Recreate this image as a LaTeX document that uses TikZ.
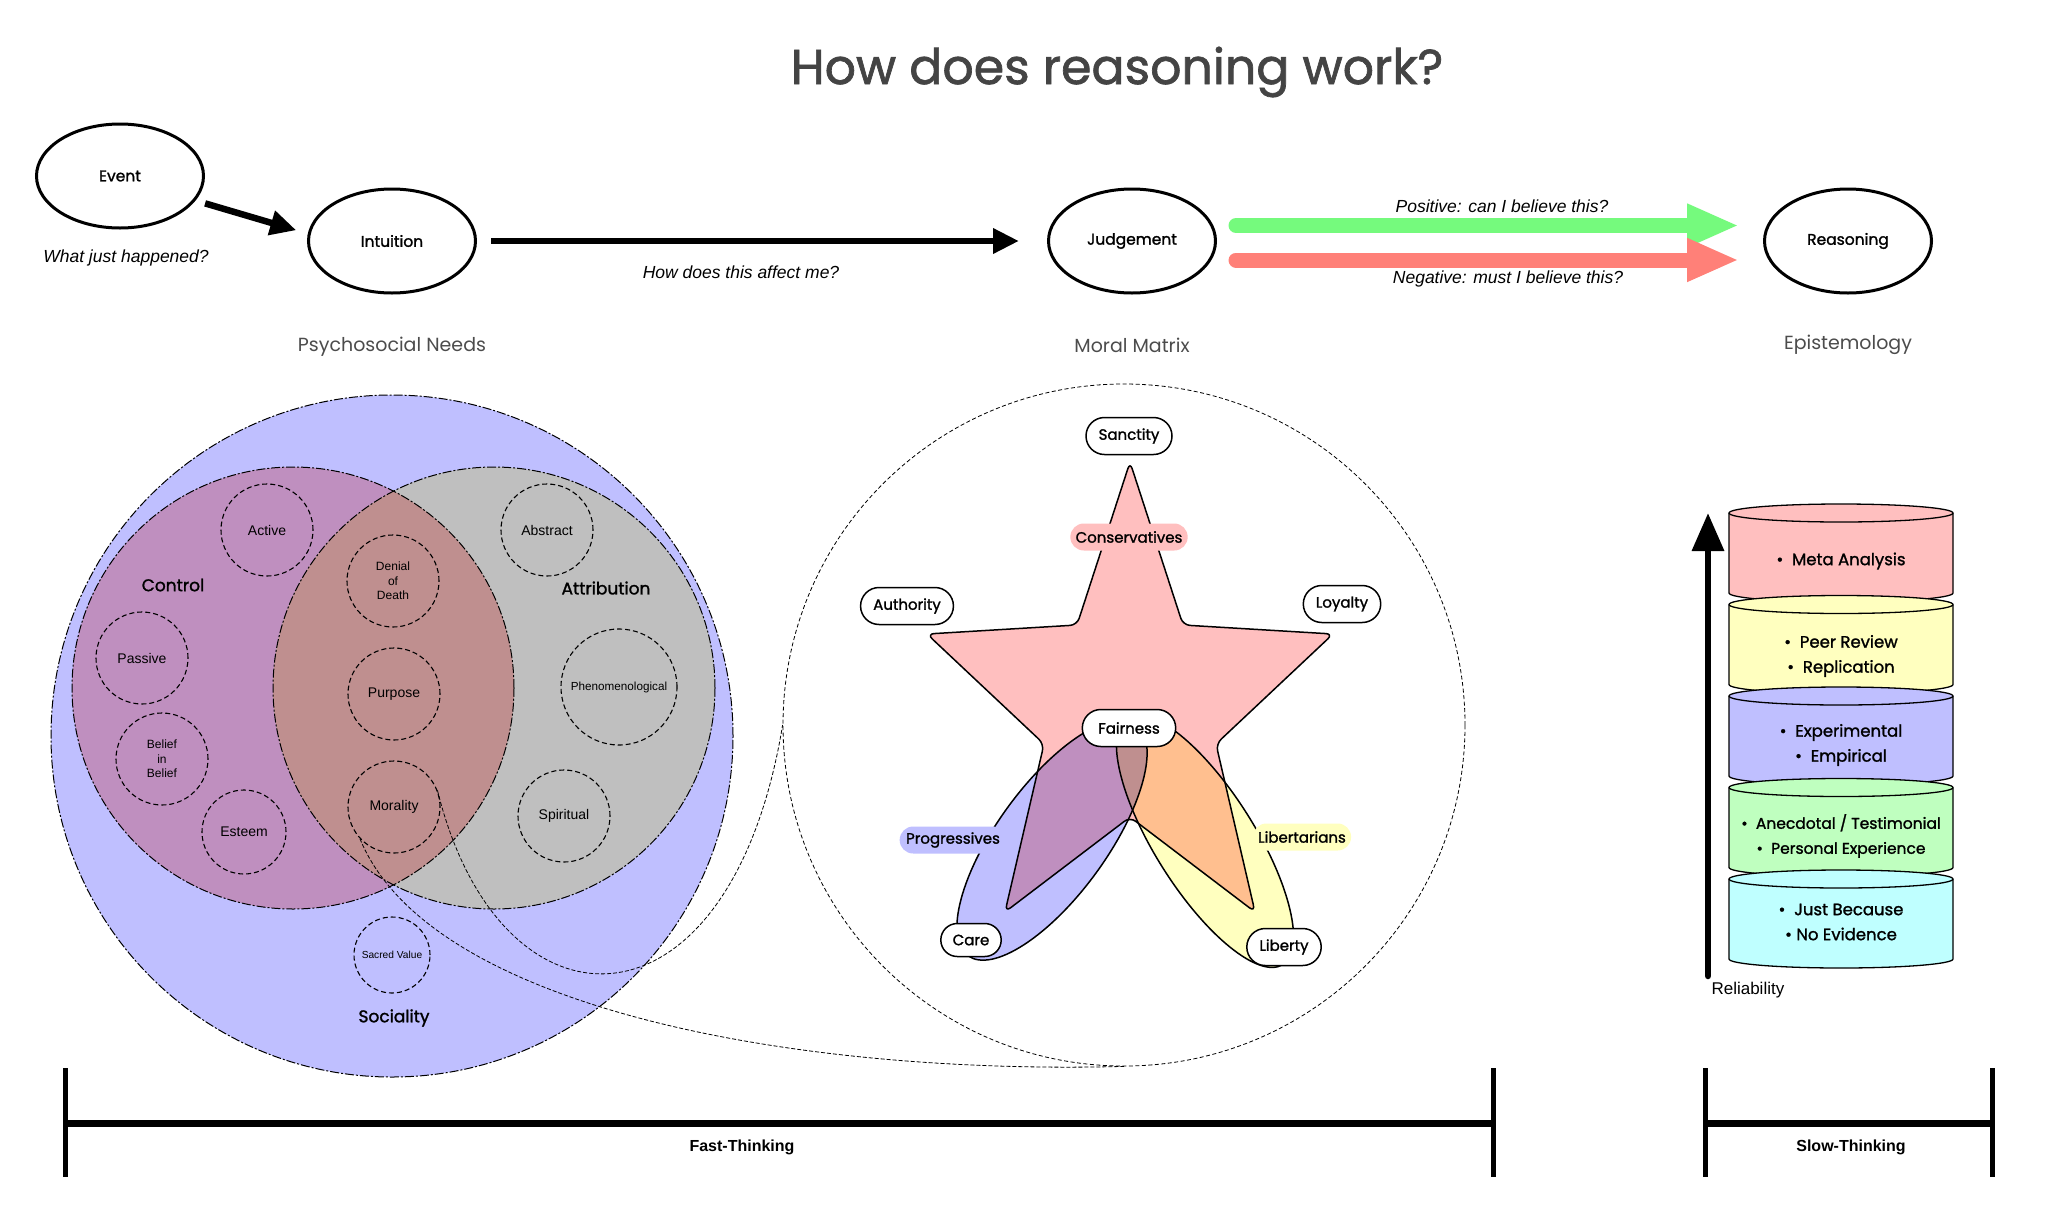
\documentclass[tikz,border=0pt]{standalone}
\usepackage{fontspec}
\setmainfont{Liberation Sans}
\newfontfamily\futura{Poppins}
\newfontfamily\futuramed{Poppins}[FakeBold=1.4]
\usetikzlibrary{arrows.meta,shapes.geometric,shapes.misc}

\definecolor{socblue}{RGB}{191,191,255}
\definecolor{ctrlpurple}{RGB}{191,143,191}
\definecolor{attrgray}{RGB}{191,191,191}
\definecolor{overlaprose}{RGB}{191,143,143}
\definecolor{starpink}{RGB}{255,191,191}
\definecolor{libyellow}{RGB}{255,255,191}
\definecolor{liborange}{RGB}{255,191,143}
\definecolor{evigreen}{RGB}{191,255,191}
\definecolor{evicyan}{RGB}{191,255,255}
\definecolor{posgreen}{RGB}{117,250,125}
\definecolor{negred}{RGB}{255,128,120}
\definecolor{titlegray}{RGB}{68,68,68}

\tikzset{
  stage/.style={ellipse, draw, line width=3pt, minimum width=167pt, minimum height=104pt, font=\futuramed\fontsize{15.5}{18}\selectfont},
  question/.style={font=\itshape\fontsize{17.5}{21}\selectfont},
  section/.style={font=\futura\fontsize{19}{23}\selectfont, text=black!70},
  flow/.style={line width=6.5pt, -{Triangle[length=26pt,width=24pt]}},
  verdict/.style={line width=15pt, line cap=round, -{Triangle[length=52pt,width=40pt]}},
  vennline/.style={line width=1pt, dash pattern=on 9pt off 2pt on 2pt off 2pt},
  need/.style={circle, draw, line width=1.1pt, dash pattern=on 5pt off 3pt, minimum size=92pt, inner sep=0pt, align=center, font=\fontsize{14}{16}\selectfont},
  needset/.style={font=\futuramed\fontsize{17}{20}\selectfont},
  foundation/.style={rounded rectangle, draw, fill=white, line width=1.5pt, minimum height=37pt, inner xsep=11pt, font=\futuramed\fontsize{15}{18}\selectfont},
  camp/.style={rounded rectangle, minimum height=27pt, inner xsep=4pt, font=\futuramed\fontsize{15}{18}\selectfont},
  petal/.style={line width=1.5pt},
  careleaf/.style={rotate around={54:(1052,840)}},
  libleaf/.style={rotate around={-57.8:(1205,841)}},
  zoomline/.style={line width=0.8pt, dash pattern=on 4pt off 2pt},
  evidence/.style={align=center, font=\futuramed\fontsize{16.5}{25}\selectfont},
  bracket/.style={line width=7pt},
}

\begin{document}
\begin{tikzpicture}[x=1pt, y=-1pt]
\path[use as bounding box, fill=white] (0,0) rectangle (2048,1213);

\node[font=\futuramed\fontsize{49}{58}\selectfont, text=titlegray] (title) at (1117,72) {How does reasoning work?};

% top row
\node[stage] (event) at (120,176) {Event};
\node[stage] (intuition) at (392,241) {Intuition};
\node[stage] (judgement) at (1132,241) {Judgement};
\node[stage] (reasoning) at (1848,241) {Reasoning};

\draw[flow, shorten <=10pt, shorten >=12pt] (event.-18) -- (intuition.175);
\draw[flow, shorten <=14pt, shorten >=28pt] (intuition) -- (judgement);
\draw[verdict, posgreen, shorten <=19pt, shorten >=24pt] ([yshift=15.5pt]judgement.east) -- ([yshift=15.5pt]reasoning.west);
\draw[verdict, negred, shorten <=19pt, shorten >=24pt] ([yshift=-19pt]judgement.east) -- ([yshift=-19pt]reasoning.west);

\node[question] (happened) at (126,258) {What just happened?};
\node[question] (affect) at (741,272) {How does this affect me?};
\node[question] (positive) at (1502,206) {Positive: can I believe this?};
\node[question] (negative) at (1508,279) {Negative: must I believe this?};

\node[section] (needs) at (392,347) {Psychosocial Needs};
\node[section] (matrix) at (1132,345) {Moral Matrix};
\node[section] (episteme) at (1848,345) {Epistemology};

% psychosocial needs venn
\fill[socblue] (392,736) circle[radius=341pt];
\fill[ctrlpurple] (293,688) circle[radius=221pt];
\fill[attrgray] (494,688) circle[radius=221pt];
\begin{scope}
  \clip (293,688) circle[radius=221pt];
  \fill[overlaprose] (494,688) circle[radius=221pt];
\end{scope}
\draw[vennline] (392,736) circle[radius=341pt];
\draw[vennline] (293,688) circle[radius=221pt];
\draw[vennline] (494,688) circle[radius=221pt];

\node[need] (active) at (267,530) {Active};
\node[need] (passive) at (142,658) {Passive};
\node[need, font=\fontsize{12}{14.5}\selectfont] (belief) at (162,759) {Belief\\in\\Belief};
\node[need, minimum size=84pt] (esteem) at (244,832) {Esteem};
\node[need, font=\fontsize{12}{14.5}\selectfont] (denial) at (393,581) {Denial\\of\\Death};
\node[need] (purpose) at (394,694) {Purpose};
\node[need] (morality) at (394,807) {Morality};
\node[need] (abstract) at (547,530) {Abstract};
\node[need, minimum size=116pt, font=\fontsize{11.7}{14}\selectfont] (phenomenal) at (619,687) {Phenomenological};
\node[need] (spiritual) at (564,816) {Spiritual};
\node[need, minimum size=76pt, font=\fontsize{10.2}{12}\selectfont] (sacred) at (392,955) {Sacred Value};

\node[needset] (control) at (173,585) {Control};
\node[needset] (attribution) at (606,588) {Attribution};
\node[needset] (sociality) at (394,1018) {Sociality};

% moral matrix
\node[circle, draw, line width=0.8pt, dash pattern=on 4pt off 2.5pt, minimum size=682pt, inner sep=0pt] (mmcircle) at (1124,725) {};

\def\starpath{(1130,462) -- (1183,625) -- (1333,634) -- (1216,744) -- (1255,912) -- (1130,817) -- (1005,912) -- (1044,744) -- (927,634) -- (1077,625) -- cycle}
\def\carepetal{(1052,840) ellipse[x radius=143pt, y radius=55pt]}
\def\libpetal{(1205,841) ellipse[x radius=146pt, y radius=50pt]}

\fill[starpink, rounded corners=7pt] \starpath;
\fill[socblue, careleaf] \carepetal;
\fill[libyellow, libleaf] \libpetal;
\begin{scope}
  \clip[rounded corners=7pt] \starpath;
  \fill[ctrlpurple, careleaf] \carepetal;
  \fill[liborange, libleaf] \libpetal;
  \clip[careleaf] \carepetal;
  \fill[overlaprose, libleaf] \libpetal;
\end{scope}
\draw[petal, careleaf] \carepetal;
\draw[petal, libleaf] \libpetal;
\draw[petal, rounded corners=7pt] \starpath;

\node[foundation] (sanctity) at (1129,436) {Sanctity};
\node[foundation] (authority) at (907,606) {Authority};
\node[foundation] (loyalty) at (1342,604) {Loyalty};
\node[foundation, inner xsep=15pt] (fairness) at (1129,728) {Fairness};
\node[foundation, minimum height=33pt] (care) at (971,940) {Care};
\node[foundation] (liberty) at (1284,947) {Liberty};
\node[camp, fill=starpink] (conservatives) at (1129,537) {Conservatives};
\node[camp, fill=socblue] (progressives) at (953,840) {Progressives};
\node[camp, fill=libyellow] (libertarians) at (1302,837) {Libertarians};

% zoom from morality
\draw[zoomline] (morality.21) .. controls (500,1045) and (730,1045) .. (mmcircle.west);
\draw[zoomline] (morality.223) .. controls (430,1010) and (800,1075) .. (mmcircle.south);

% epistemology stack
\foreach \lvl/\col in {0/starpink,1/libyellow,2/socblue,3/evigreen,4/evicyan} {
  \pgfmathsetmacro\cyltop{513+91.5*\lvl}
  \pgfmathsetmacro\cylbot{\cyltop+80}
  \filldraw[fill=\col, line width=1.3pt] (1729,\cyltop) -- (1729,\cylbot) arc[start angle=180, end angle=360, x radius=112pt, y radius=9pt] -- (1953,\cyltop) arc[start angle=0, end angle=180, x radius=112pt, y radius=9pt] -- cycle;
  \draw[line width=1.3pt] (1729,\cyltop) arc[start angle=180, end angle=360, x radius=112pt, y radius=9pt];
}
\node[evidence] (meta) at (1841,561) {•~ Meta Analysis};
\node[evidence] (peer) at (1841,656) {•~ Peer Review\\•~ Replication};
\node[evidence] (experiment) at (1841,745) {•~ Experimental\\•~ Empirical};
\node[evidence, font=\futuramed\fontsize{15.5}{25}\selectfont] (anecdote) at (1841,836) {•~ Anecdotal / Testimonial\\•~ Personal Experience};
\node[evidence] (nothing) at (1841,922) {•~ Just Because\\• No Evidence};

\coordinate (relbase) at (1708,976);
\coordinate (reltop) at (1708,513);
\draw[line width=6.5pt, line cap=round, -{Triangle[length=38pt,width=31pt]}] (relbase) -- (reltop);
\node[anchor=west, font=\fontsize{17}{20}\selectfont] (reliability) at (1708,990) {Reliability};

% thinking spans
\draw[bracket] (65,1123) -- (1493,1123);
\draw[line width=5pt] (65,1068) -- (65,1177);
\draw[line width=5pt] (1493,1068) -- (1493,1177);
\node[font=\bfseries\fontsize{16}{19}\selectfont] (fast) at (742,1147) {Fast-Thinking};
\draw[bracket] (1705,1123) -- (1992,1123);
\draw[line width=5pt] (1705,1068) -- (1705,1177);
\draw[line width=5pt] (1992,1068) -- (1992,1177);
\node[font=\bfseries\fontsize{16}{19}\selectfont] (slow) at (1851,1147) {Slow-Thinking};
\end{tikzpicture}
\end{document}
